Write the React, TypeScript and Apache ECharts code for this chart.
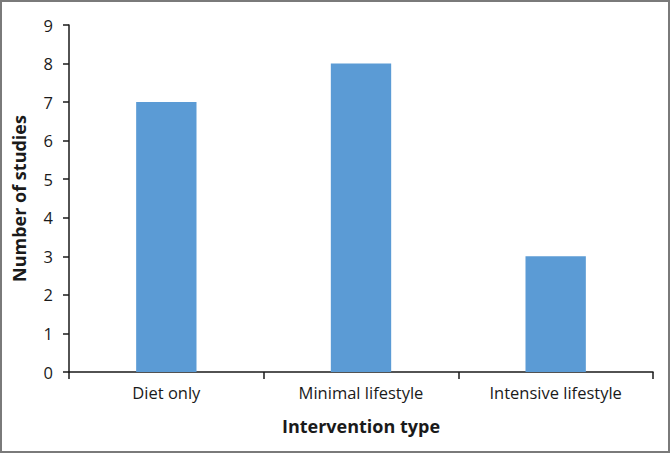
import React, { useEffect, useRef } from "react";
import * as echarts from "echarts";

const categories = ["Diet only", "Minimal lifestyle", "Intensive lifestyle"];
const studies = [7, 8, 3];
const yTicks = [0, 1, 2, 3, 4, 5, 6, 7, 8, 9];

export default function App() {
  const ref = useRef<HTMLDivElement>(null);
  useEffect(() => {
    if (!ref.current) return;
    const chart = echarts.init(ref.current, undefined, { renderer: "svg" });
    const font = "'Open Sans', 'Noto Sans', sans-serif";
    chart.setOption({
      animation: false,
      backgroundColor: "#ffffff",
      graphic: [
        {
          type: "rect",
          shape: { x: 1, y: 1, width: 668, height: 451 },
          style: { fill: "none", stroke: "#7a7a7a", lineWidth: 2 },
          silent: true,
        },
      ],
      grid: { left: 69, right: 17, top: 25, bottom: 81 },
      xAxis: {
        type: "category",
        data: categories,
        name: "Intervention type",
        nameLocation: "middle",
        nameGap: 45,
        nameTextStyle: { fontFamily: font, fontSize: 18, fontWeight: "bold", color: "#1a1a1a" },
        axisLine: { lineStyle: { color: "#1a1a1a", width: 1.5 } },
        axisTick: { show: true, length: 7, lineStyle: { color: "#1a1a1a", width: 1.5 } },
        axisLabel: { fontFamily: font, fontSize: 16.5, color: "#1a1a1a", margin: 12 },
      },
      yAxis: {
        type: "value",
        min: yTicks[0],
        max: yTicks[yTicks.length - 1],
        interval: 1,
        name: "Number of studies",
        nameLocation: "middle",
        nameGap: 41,
        nameTextStyle: { fontFamily: font, fontSize: 18, fontWeight: "bold", color: "#1a1a1a" },
        axisLine: { show: true, lineStyle: { color: "#1a1a1a", width: 1.5 } },
        axisTick: { show: true, length: 6, lineStyle: { color: "#1a1a1a", width: 1.5 } },
        axisLabel: { fontFamily: font, fontSize: 16.5, color: "#1a1a1a", margin: 16 },
        splitLine: { show: false },
      },
      series: [
        {
          type: "bar",
          data: studies,
          barWidth: "31%",
          itemStyle: { color: "#5b9bd5" },
        },
      ],
    });
    return () => chart.dispose();
  }, []);
  return <div ref={ref} style={{ width: 670, height: 453, position: "absolute", left: 0, top: 0 }} />;
}
